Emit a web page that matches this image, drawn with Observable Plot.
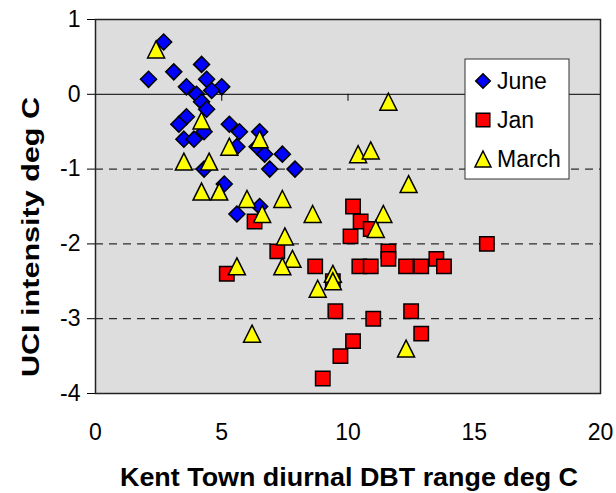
<!DOCTYPE html>
<html>
<head>
<meta charset="utf-8">
<script src="https://cdn.jsdelivr.net/npm/d3@7"></script>
<script src="https://cdn.jsdelivr.net/npm/@observablehq/plot@0.6"></script>
<style>
  html, body { margin: 0; padding: 0; background: #ffffff; }
  #chart { width: 616px; height: 493px; }
</style>
</head>
<body>
<div id="chart"></div>
<script>
// UCI intensity vs Kent Town diurnal dry-bulb temperature range

// June: [diurnal range, UCI intensity]
const juneX = [2.7, 2.1, 3.1, 4.2, 4.4, 3.6, 5.0, 4.6, 4.0, 4.2, 4.4, 3.6, 3.3, 5.3, 5.7, 6.5, 4.3, 3.5, 3.9, 5.6, 6.4, 6.7, 7.4, 4.3, 6.9, 7.9, 5.1, 5.6, 6.5];
const juneY = [0.7, 0.2, 0.3, 0.4, 0.2, 0.1, 0.1, 0.05, 0.0, -0.1, -0.2, -0.3, -0.4, -0.4, -0.5, -0.5, -0.5, -0.6, -0.6, -0.7, -0.7, -0.8, -0.8, -1.0, -1.0, -1.0, -1.2, -1.6, -1.5];

// Jan
const janX = [10.2, 10.5, 10.9, 10.1, 15.5, 11.6, 11.6, 7.2, 8.7, 10.45, 10.9, 12.3, 12.9, 13.5, 13.8, 9.4, 9.5, 11.0, 12.5, 12.9, 10.2, 9.7, 9.0, 6.3, 5.2];
const janY = [-1.5, -1.7, -1.8, -1.9, -2.0, -2.1, -2.2, -2.1, -2.3, -2.3, -2.3, -2.3, -2.3, -2.2, -2.3, -2.5, -2.9, -3.0, -2.9, -3.2, -3.3, -3.5, -3.8, -1.7, -2.4];

// March
const marchX = [2.4, 4.2, 6.5, 5.3, 3.5, 4.5, 4.2, 4.9, 6.0, 7.4, 6.6, 8.6, 7.5, 5.6, 7.8, 7.4, 9.4, 9.4, 8.8, 6.2, 10.4, 10.9, 11.6, 12.4, 11.4, 11.1, 12.3];
const marchY = [0.6, -0.35, -0.6, -0.7, -0.9, -0.9, -1.3, -1.3, -1.4, -1.4, -1.6, -1.6, -1.9, -2.3, -2.2, -2.3, -2.4, -2.5, -2.6, -3.2, -0.8, -0.75, -0.1, -1.2, -1.6, -1.8, -3.4];

const xTicks = [0, 5, 10, 15, 20];
const yTicks = [-4, -3, -2, -1, 0, 1];
const gridY = [-1, -2, -3];
const seriesNames = ["June", "Jan", "March"];
const seriesColors = ["#0000ff", "#ff0000", "#ffff00"];

const xTitle = "Kent Town diurnal DBT range deg C";
const yTitle = "UCI intensity deg C";

const toRows = (xs, ys) => xs.map((x, i) => ({x, y: ys[i]}));
const june = toRows(juneX, juneY);
const jan = toRows(janX, janY);
const march = toRows(marchX, marchY);

// Marker shapes; the radius r given to the dot mark is the half-width of the shape
const diamondSym = {draw(ctx, size) { const r = Math.sqrt(size / Math.PI); ctx.moveTo(0, -r); ctx.lineTo(r, 0); ctx.lineTo(0, r); ctx.lineTo(-r, 0); ctx.closePath(); }};
const squareSym = {draw(ctx, size) { const r = Math.sqrt(size / Math.PI); ctx.rect(-r, -r, 2 * r, 2 * r); }};
const triangleSym = {draw(ctx, size) { const r = Math.sqrt(size / Math.PI); ctx.moveTo(0, -r); ctx.lineTo(r, r); ctx.lineTo(-r, r); ctx.closePath(); }};
const symbols = [diamondSym, squareSym, triangleSym];
const radii = [8, 7.2, 8.5];

const font = "'Liberation Sans', Arial, Helvetica, sans-serif";

const chart = Plot.plot({
  width: 616,
  height: 493,
  marginLeft: 95,
  marginRight: 16,
  marginTop: 19,
  marginBottom: 100,
  x: {domain: [0, 20]},
  y: {domain: [-4, 1]},
  style: {fontFamily: font, fontSize: "23px", color: "#000", background: "#fff"},
  marks: [
    Plot.frame({fill: "#dddddd"}),
    Plot.ruleY(gridY, {stroke: "#000", strokeWidth: 1, strokeDasharray: "8,6"}),
    Plot.ruleY([0], {stroke: "#000", strokeWidth: 1}),
    Plot.ruleX(xTicks.slice(1, -1), {y1: 0, y2: 0, insetBottom: -7, stroke: "#000", strokeWidth: 1}),
    Plot.axisY({ticks: yTicks, tickSize: 8, tickPadding: 7, tickFormat: (d) => String(d), label: null, fontSize: 23, stroke: "#000"}),
    Plot.axisX({ticks: xTicks, tickSize: 0, tickPadding: 30, tickFormat: (d) => String(d), label: null, fontSize: 23}),
    Plot.dot(june, {x: "x", y: "y", symbol: symbols[0], r: radii[0], fill: seriesColors[0], stroke: "#000", strokeWidth: 1.5}),
    Plot.dot(jan, {x: "x", y: "y", symbol: symbols[1], r: radii[1], fill: seriesColors[1], stroke: "#000", strokeWidth: 1.5}),
    Plot.dot(march, {x: "x", y: "y", symbol: symbols[2], r: radii[2], fill: seriesColors[2], stroke: "#000", strokeWidth: 1.5}),
    Plot.frame({stroke: "#222", strokeWidth: 1.5})
  ]
});

document.getElementById("chart").appendChild(chart);

const svg = d3.select(chart);

// Axis titles
svg.append("text")
  .attr("x", 349).attr("y", 477)
  .attr("text-anchor", "middle").attr("dominant-baseline", "central")
  .attr("font-family", font).attr("font-weight", "bold").attr("font-size", 26)
  .attr("textLength", 458).attr("lengthAdjust", "spacingAndGlyphs")
  .text(xTitle);

svg.append("text")
  .attr("transform", "translate(30,237) rotate(-90)")
  .attr("text-anchor", "middle").attr("dominant-baseline", "central")
  .attr("font-family", font).attr("font-weight", "bold").attr("font-size", 24)
  .attr("textLength", 280).attr("lengthAdjust", "spacingAndGlyphs")
  .text(yTitle);

// Legend box
const legend = svg.append("g").attr("transform", "translate(465,59)");
legend.append("rect")
  .attr("width", 104).attr("height", 120)
  .attr("fill", "#fff").attr("stroke", "#333").attr("stroke-width", 1);
const legendR = [7.3, 6.8, 8];
seriesNames.forEach((name, i) => {
  const cy = 22 + i * 39;
  legend.append("path")
    .attr("transform", `translate(18,${cy})`)
    .attr("d", d3.symbol(symbols[i], Math.PI * legendR[i] * legendR[i])())
    .attr("fill", seriesColors[i]).attr("stroke", "#000").attr("stroke-width", 1.5);
  legend.append("text")
    .attr("x", 32).attr("y", cy)
    .attr("text-anchor", "start")
    .attr("dominant-baseline", "central")
    .attr("font-family", font).attr("font-size", 23)
    .text(name);
});
</script>
</body>
</html>
